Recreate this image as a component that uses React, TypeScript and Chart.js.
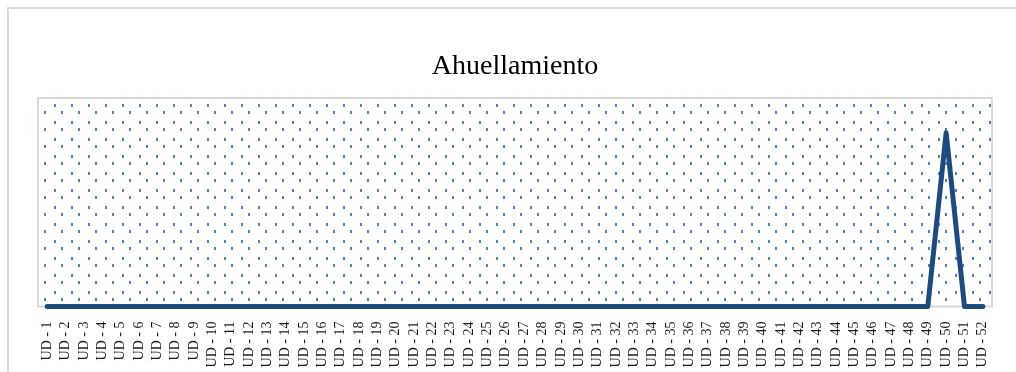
import React, { useEffect, useRef } from "react";
import { Chart, registerables } from "chart.js";

Chart.register(...registerables);

const TITLE = "Ahuellamiento";
const CATEGORIES: string[] = [
  "UD - 1", "UD - 2", "UD - 3", "UD - 4", "UD - 5", "UD - 6", "UD - 7", "UD - 8", "UD - 9", "UD - 10",
  "UD - 11", "UD - 12", "UD - 13", "UD - 14", "UD - 15", "UD - 16", "UD - 17", "UD - 18", "UD - 19", "UD - 20",
  "UD - 21", "UD - 22", "UD - 23", "UD - 24", "UD - 25", "UD - 26", "UD - 27", "UD - 28", "UD - 29", "UD - 30",
  "UD - 31", "UD - 32", "UD - 33", "UD - 34", "UD - 35", "UD - 36", "UD - 37", "UD - 38", "UD - 39", "UD - 40",
  "UD - 41", "UD - 42", "UD - 43", "UD - 44", "UD - 45", "UD - 46", "UD - 47", "UD - 48", "UD - 49", "UD - 50",
  "UD - 51", "UD - 52",
];
const VALUES: number[] = [
  0, 0, 0, 0, 0, 0, 0, 0, 0, 0,
  0, 0, 0, 0, 0, 0, 0, 0, 0, 0,
  0, 0, 0, 0, 0, 0, 0, 0, 0, 0,
  0, 0, 0, 0, 0, 0, 0, 0, 0, 0,
  0, 0, 0, 0, 0, 0, 0, 0, 0, 1,
  0, 0,
];
const Y_MIN = 0;
const Y_MAX = 1.2;

const W = 1009;
const H = 365;

const decorPlugin = {
  id: "decor",
  beforeDraw(chart: any) {
    const ctx = chart.ctx;
    ctx.save();
    ctx.fillStyle = "#ffffff";
    ctx.fillRect(0, 0, chart.width, chart.height);
    ctx.fillStyle = "#d9d9d9";
    ctx.fillRect(0, 0, 2, chart.height);
    ctx.fillRect(0, 0, chart.width, 2);
    ctx.restore();
  },
  beforeDatasetsDraw(chart: any) {
    const ctx = chart.ctx;
    const a = chart.chartArea;
    ctx.save();
    ctx.beginPath();
    ctx.rect(a.left + 1, a.top + 1, a.right - a.left - 2, a.bottom - a.top - 2);
    ctx.clip();
    ctx.fillStyle = "#4f81bd";
    const step = 17;
    for (let y0 = a.top - step; y0 < a.bottom + step; y0 += step) {
      for (let x0 = a.left - step; x0 < a.right + step; x0 += step) {
        ctx.fillRect(Math.round(x0 + 16), Math.round(y0 + 6), 2, 3);
        ctx.fillRect(Math.round(x0 + 6), Math.round(y0 + 13), 2, 3);
      }
    }
    ctx.restore();
    ctx.save();
    ctx.strokeStyle = "#d9d9d9";
    ctx.lineWidth = 2;
    ctx.strokeRect(a.left, a.top, a.right - a.left, a.bottom - a.top);
    ctx.restore();
  },
};

export default function App() {
  const ref = useRef<HTMLCanvasElement | null>(null);
  useEffect(() => {
    if (!ref.current) return;
    const chart = new Chart(ref.current, {
      type: "line",
      data: {
        labels: CATEGORIES,
        datasets: [
          {
            data: VALUES,
            borderColor: "#1f4a7e",
            borderWidth: 5,
            borderCapStyle: "round",
            borderJoinStyle: "round",
            pointRadius: 0,
            tension: 0,
            fill: false,
            clip: false,
          } as any,
        ],
      },
      options: {
        responsive: false,
        animation: false,
        layout: { padding: { left: 31, right: 24, top: 0, bottom: 0 } },
        plugins: {
          legend: { display: false },
          tooltip: { enabled: false },
          title: {
            display: true,
            text: TITLE,
            color: "#000000",
            font: { family: "'Liberation Serif', 'Times New Roman', serif", size: 28, weight: "normal", lineHeight: 1.2 },
            padding: { top: 43, bottom: 14.4 },
          },
        },
        scales: {
          x: {
            type: "category",
            offset: true,
            grid: { display: false },
            border: { display: false },
            ticks: {
              autoSkip: false,
              minRotation: 90,
              maxRotation: 90,
              padding: 7,
              color: "#1a1a1a",
              font: { family: "'Liberation Serif', 'Times New Roman', serif", size: 14 },
            },
            afterFit(scale: any) {
              scale.height = 65.5;
            },
          },
          y: {
            display: false,
            min: Y_MIN,
            max: Y_MAX,
          },
        },
      },
      plugins: [decorPlugin],
    });
    return () => chart.destroy();
  }, []);
  return (
    <div style={{ position: "absolute", left: 7, top: 7, width: W, height: H }}>
      <canvas ref={ref} width={W} height={H} style={{ width: W, height: H, display: "block" }} />
    </div>
  );
}
